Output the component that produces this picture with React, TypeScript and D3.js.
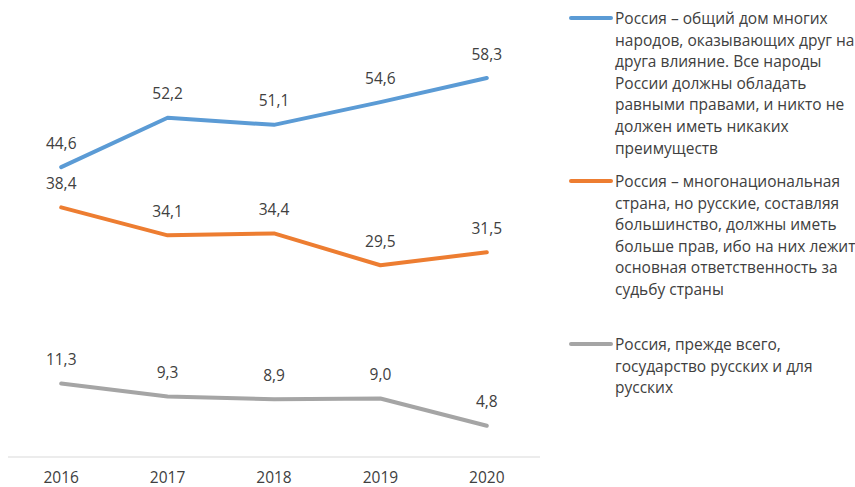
import React from "react";
import * as d3 from "d3";

const years = ["2016", "2017", "2018", "2019", "2020"];
const seriesCommon = [44.6, 52.2, 51.1, 54.6, 58.3];
const seriesRussianMore = [38.4, 34.1, 34.4, 29.5, 31.5];
const seriesRussianState = [11.3, 9.3, 8.9, 9.0, 4.8];

const legendCommon = [
  "Россия – общий дом многих",
  "народов, оказывающих друг на",
  "друга влияние. Все народы",
  "России должны обладать",
  "равными правами, и никто не",
  "должен иметь никаких",
  "преимуществ",
];
const legendRussianMore = [
  "Россия – многонациональная",
  "страна, но русские, составляя",
  "большинство, должны иметь",
  "больше прав, ибо на них лежит",
  "основная ответственность за",
  "судьбу страны",
];
const legendRussianState = [
  "Россия, прежде всего,",
  "государство русских и для",
  "русских",
];

const W = 855;
const H = 487;
const FONT = "'Open Sans', sans-serif";

export default function App() {
  const x = d3.scaleBand<string>().domain(years).range([8, 540]);
  const y = d3.scaleLinear().domain([0, 70]).range([457, 2]);
  const cx = (d: string) => (x(d) as number) + x.bandwidth() / 2;
  const fmt = (v: number) => v.toFixed(1).replace(".", ",");

  const series = [
    { values: seriesCommon, color: "#5B9BD5", legend: legendCommon, ly: 18 },
    { values: seriesRussianMore, color: "#ED7D31", legend: legendRussianMore, ly: 181 },
    { values: seriesRussianState, color: "#A5A5A5", legend: legendRussianState, ly: 344 },
  ];

  const line = d3
    .line<number>()
    .x((_, i) => cx(years[i]))
    .y((v) => y(v));

  return (
    <svg
      width={W}
      height={H}
      style={{ position: "absolute", left: 0, top: 0, background: "#fff" }}
      fontFamily={FONT}
    >
      <line x1={8} x2={540} y1={y(0)} y2={y(0)} stroke="#D9D9D9" strokeWidth={1} />
      {years.map((yr) => (
        <text key={yr} x={cx(yr)} y={482.5} textAnchor="middle" fontSize={15.5} fill="#404040">
          {yr}
        </text>
      ))}
      {series.map((s, si) => (
        <g key={si}>
          <path d={line(s.values) || ""} fill="none" stroke={s.color} strokeWidth={4} strokeLinejoin="round" strokeLinecap="round" />
          {s.values.map((v, i) => (
            <text key={i} x={cx(years[i])} y={y(v) - 18.5} textAnchor="middle" fontSize={15.5} fill="#404040">
              {fmt(v)}
            </text>
          ))}
          <line x1={571} x2={611} y1={s.ly} y2={s.ly} stroke={s.color} strokeWidth={4} strokeLinecap="round" />
          {s.legend.map((t, li) => (
            <text key={li} x={615} y={s.ly + 6 + li * 21.6} fontSize={15.5} fill="#404040">
              {t}
            </text>
          ))}
        </g>
      ))}
    </svg>
  );
}
